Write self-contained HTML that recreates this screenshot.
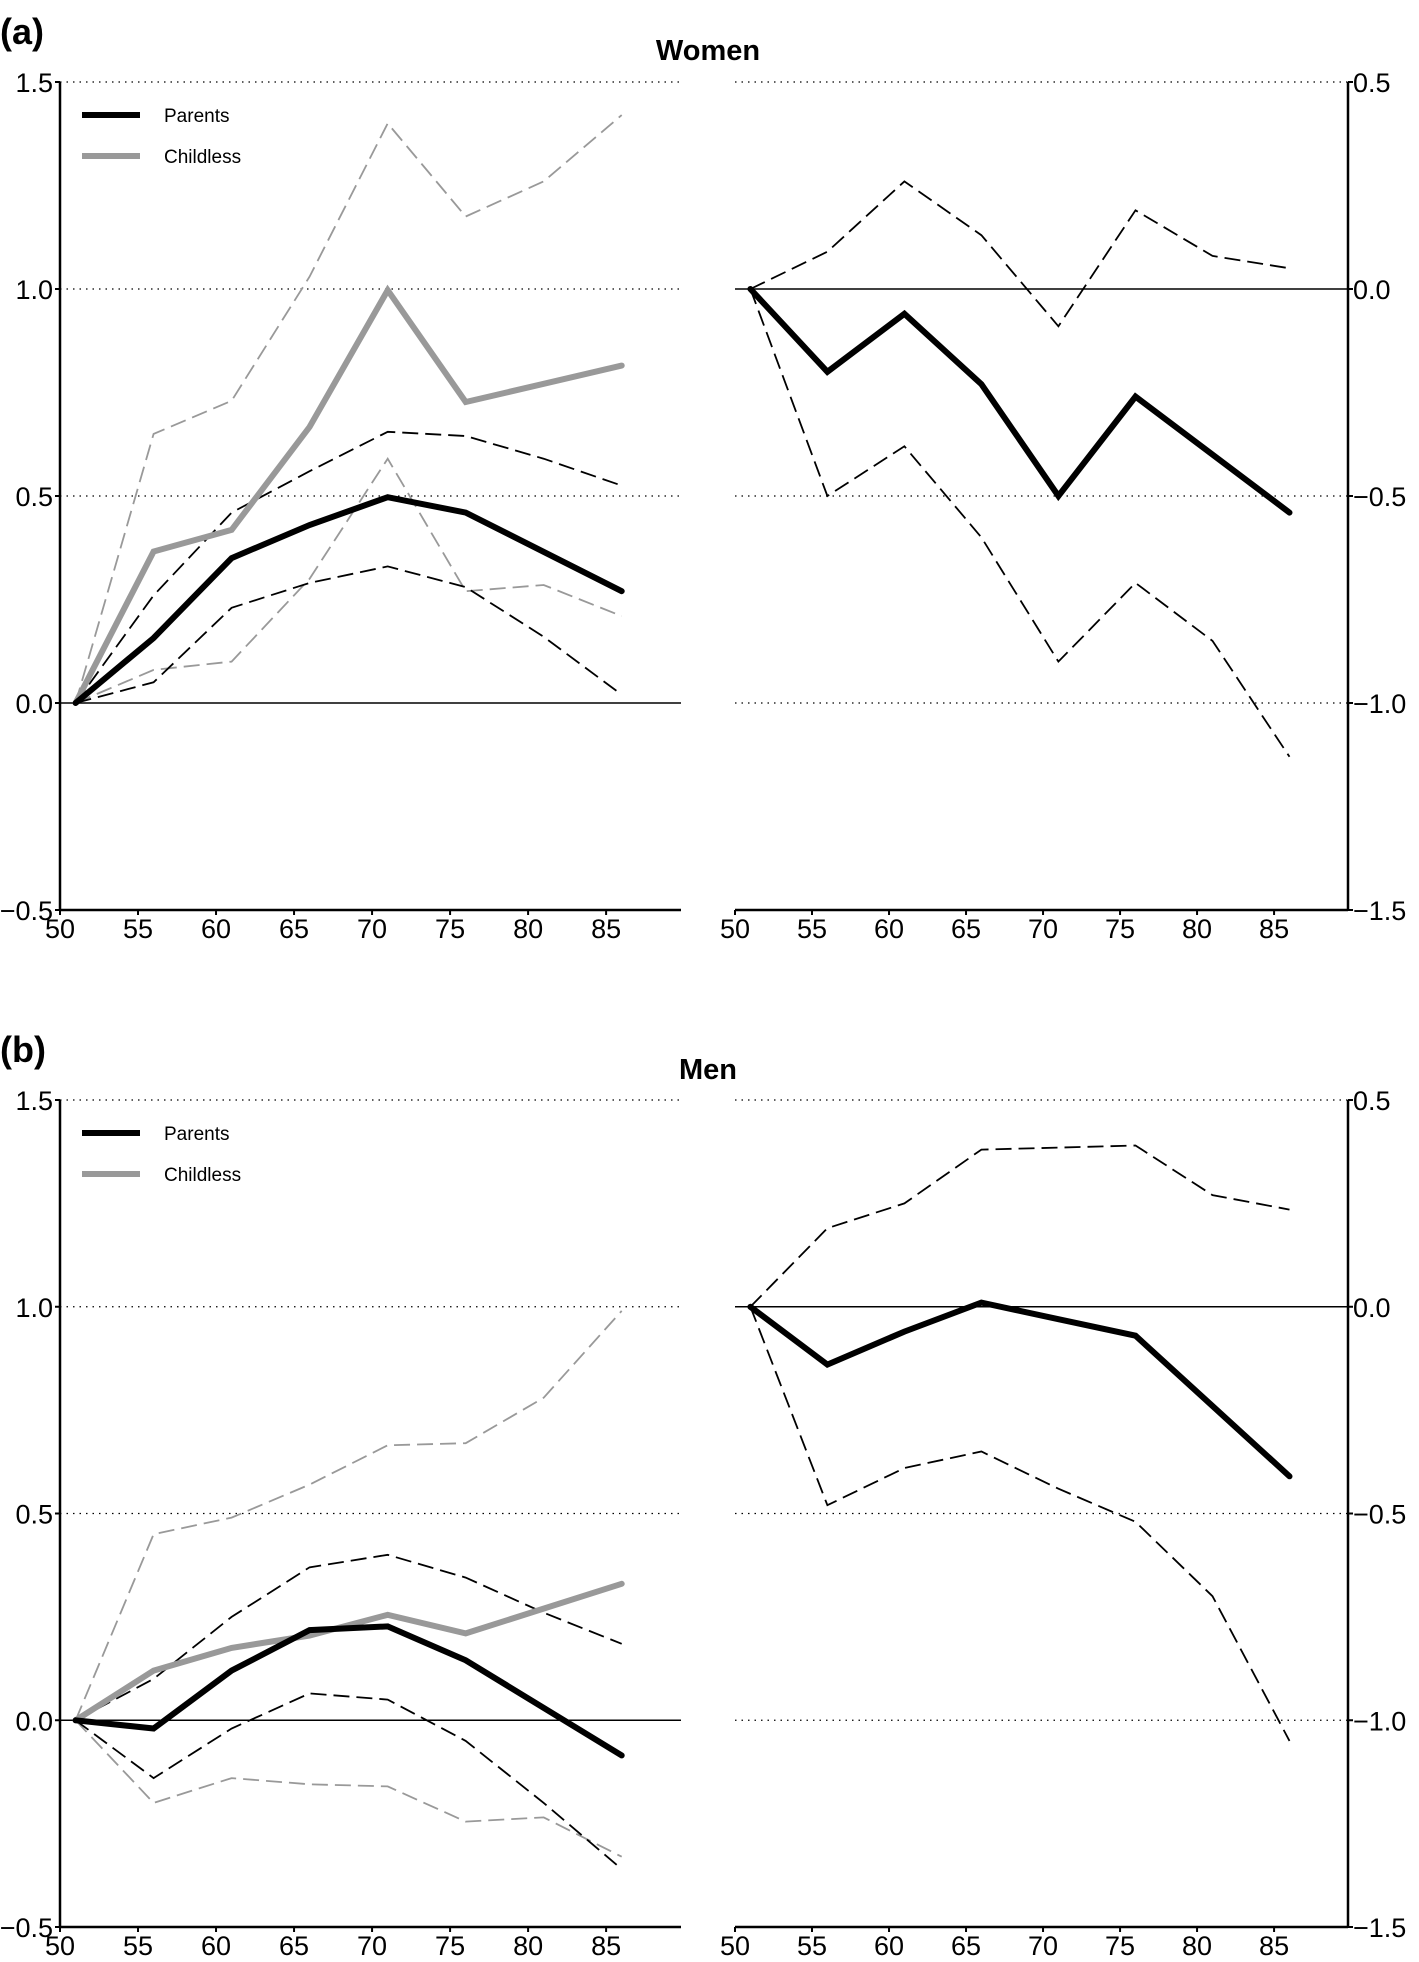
<!DOCTYPE html>
<html><head><meta charset="utf-8"><style>
html,body{margin:0;padding:0;background:#fff}
svg{display:block;font-family:"Liberation Sans",Arial,sans-serif}
</style></head><body>
<svg id="chart" width="1419" height="1962" viewBox="0 0 1419 1962"></svg>
<script>
const ages=[51,56,61,66,71,76,81,86];
const mainAges=[51,56,61,66,71,76,86];
const xTicks=[50,55,60,65,70,75,80,85];
const leftTicks=[-0.5,0,0.5,1.0,1.5];
const leftTickLabels=["\u22120.5","0.0","0.5","1.0","1.5"];
const rightTicks=[-1.5,-1.0,-0.5,0,0.5];
const rightTickLabels=["\u22121.5","\u22121.0","\u22120.5","0.0","0.5"];
// Women
const wParents=[0,0.157,0.35,0.43,0.497,0.46,0.27];
const wChildless=[0,0.366,0.418,0.667,0.997,0.727,0.815];
const wParUp=[0,0.26,0.46,0.56,0.655,0.645,0.59,0.525];
const wParLo=[0,0.05,0.23,0.29,0.33,0.28,0.16,0.02];
const wChiUp=[0,0.65,0.73,1.03,1.40,1.175,1.26,1.42];
const wChiLo=[0,0.08,0.10,0.30,0.59,0.27,0.285,0.21];
const wDiff=[0,-0.2,-0.06,-0.23,-0.5,-0.26,-0.54];
const wDiffUp=[0,0.09,0.26,0.13,-0.09,0.19,0.08,0.05];
const wDiffLo=[0,-0.5,-0.38,-0.6,-0.9,-0.71,-0.85,-1.13];
// Men
const mParents=[0,-0.02,0.12,0.218,0.227,0.145,-0.085];
const mChildless=[0,0.12,0.175,0.205,0.255,0.21,0.33];
const mParUp=[0,0.10,0.25,0.37,0.40,0.345,0.26,0.185];
const mParLo=[0,-0.14,-0.02,0.065,0.05,-0.05,-0.2,-0.36];
const mChiUp=[0,0.45,0.49,0.57,0.665,0.67,0.78,0.99];
const mChiLo=[0,-0.2,-0.14,-0.155,-0.16,-0.245,-0.235,-0.33];
const mDiff=[0,-0.14,-0.06,0.01,-0.03,-0.07,-0.41];
const mDiffUp=[0,0.19,0.25,0.38,0.385,0.39,0.27,0.235];
const mDiffLo=[0,-0.48,-0.39,-0.35,-0.44,-0.52,-0.7,-1.05];

const NS="http://www.w3.org/2000/svg";
const svg=document.getElementById('chart');
function el(tag,attrs,parent,text){const e=document.createElementNS(NS,tag);for(const k in attrs)e.setAttribute(k,attrs[k]);if(text!==undefined)e.textContent=text;(parent||svg).appendChild(e);return e;}

function panel(name,x0,x1,yTop,yBot,vTop,vBot,side,series){
  const g=el('g',{});
  
  
  const xs=a=>x0+(a-50)*(x1-x0)/39.8;
  const ys=v=>yTop+(vTop-v)*(yBot-yTop)/(vTop-vBot);
  const ticks=side==='left'?leftTicks:rightTicks;
  const labels=side==='left'?leftTickLabels:rightTickLabels;
  ticks.forEach((t,i)=>{
    const y=ys(t);
    if(t===0){const l=el('line',{x1:x0,x2:x1,y1:y,y2:y,stroke:'#000','stroke-width':1.5},g);}
    else if(i!==0){const l=el('line',{x1:x0,x2:x1,y1:y,y2:y,stroke:'#000','stroke-width':1.3,'stroke-dasharray':'1.5 5'},g);}
    const ax=side==='left'?x0:x1;
    el('line',{x1:side==='left'?ax-5:ax,x2:side==='left'?ax:ax+5,y1:y,y2:y,stroke:'#000','stroke-width':2},g);
    const tx=el('text',{x:side==='left'?x0-7:x1+5,y:y+10,'font-size':27,'text-anchor':side==='left'?'end':'start',fill:'#000'},g,labels[i]);
    
    
  });
  const axx=side==='left'?x0:x1;
  const ya=el('line',{x1:axx,x2:axx,y1:yTop,y2:yBot,stroke:'#000','stroke-width':2.5},g);
  
  
  const xa=el('line',{x1:x0,x2:x1,y1:yBot,y2:yBot,stroke:'#000','stroke-width':2.5},g);
  
  
  xTicks.forEach(t=>{
    el('line',{x1:xs(t),x2:xs(t),y1:yBot,y2:yBot+5,stroke:'#000','stroke-width':2},g);
    const tx=el('text',{x:xs(t),y:yBot+28,'font-size':27,'text-anchor':'middle'},g,String(t));
    
    
  });
  series.forEach(s=>{
    const xsArr=s.vals.length===ages.length?ages:mainAges;
    const pts=s.vals.map((v,i)=>xs(xsArr[i]).toFixed(1)+','+ys(v).toFixed(1)).join(' ');
    const p=el('polyline',{points:pts,fill:'none',stroke:s.color,'stroke-width':s.w,'stroke-dasharray':s.dash||'none','stroke-linejoin':'miter','stroke-linecap':s.dash?'butt':'round'},g);
    
    
  });
}
function legend(y){
  const g=el('g',{});
  
  
  const a=el('line',{x1:82,x2:140,y1:y,y2:y,stroke:'#000','stroke-width':6},g);
  
  
  const t1=el('text',{x:164,y:y+7,'font-size':19},g,'Parents');
  
  
  const b=el('line',{x1:82,x2:140,y1:y+41,y2:y+41,stroke:'#999','stroke-width':6},g);
  
  
  const t2=el('text',{x:164,y:y+48,'font-size':19},g,'Childless');
  
  
}
const D='16 7', BK='#000', GR='#999';
function groupSeries(par,chi,pu,pl,cu,cl){return [
  {name:'childless-ci-upper',vals:cu,color:GR,w:1.8,dash:D},
  {name:'childless-ci-lower',vals:cl,color:GR,w:1.8,dash:D},
  {name:'parents-ci-upper',vals:pu,color:BK,w:1.8,dash:D},
  {name:'parents-ci-lower',vals:pl,color:BK,w:1.8,dash:D},
  {name:'childless-line',vals:chi,color:GR,w:6},
  {name:'parents-line',vals:par,color:BK,w:6}];}
function diffSeries(d,u,l){return [
  {name:'difference-ci-upper',vals:u,color:BK,w:1.8,dash:D},
  {name:'difference-ci-lower',vals:l,color:BK,w:1.8,dash:D},
  {name:'difference-line',vals:d,color:BK,w:6}];}

panel('women-levels-panel',60,681,82,910,1.5,-0.5,'left',groupSeries(wParents,wChildless,wParUp,wParLo,wChiUp,wChiLo));
panel('women-difference-panel',735,1348,82,910,0.5,-1.5,'right',diffSeries(wDiff,wDiffUp,wDiffLo));
panel('men-levels-panel',60,681,1100,1927,1.5,-0.5,'left',groupSeries(mParents,mChildless,mParUp,mParLo,mChiUp,mChiLo));
panel('men-difference-panel',735,1348,1100,1927,0.5,-1.5,'right',diffSeries(mDiff,mDiffUp,mDiffLo));
legend(115);
legend(1133);

const la=el('text',{x:0,y:44,'font-size':36,'font-weight':'bold'},svg,'(a)');


const tw=el('text',{x:708,y:60,'font-size':29,'font-weight':'bold','text-anchor':'middle'},svg,'Women');


const lb=el('text',{x:0,y:1062,'font-size':36,'font-weight':'bold'},svg,'(b)');


const tm=el('text',{x:708,y:1079,'font-size':29,'font-weight':'bold','text-anchor':'middle'},svg,'Men');


</script>
</body></html>
